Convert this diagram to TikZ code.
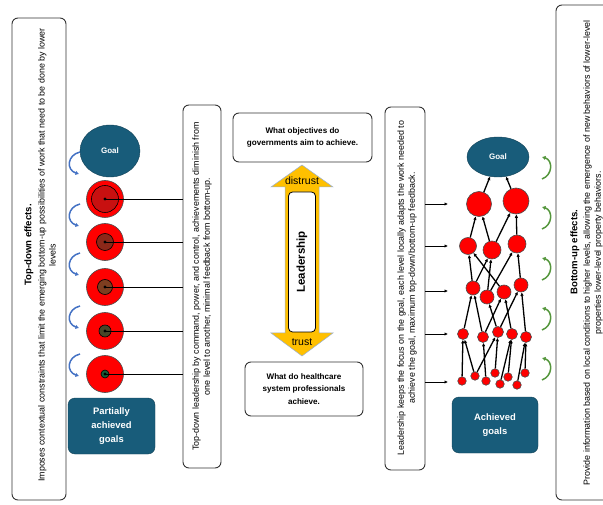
\documentclass[tikz,border=0pt]{standalone}
\usepackage{fontspec}
\setmainfont{Liberation Sans}
\usetikzlibrary{arrows.meta,shapes.geometric,positioning,calc}
\definecolor{goalblue}{RGB}{24,92,122}
\definecolor{leadgold}{RGB}{255,192,0}
\definecolor{leadedge}{RGB}{150,175,215}
\definecolor{curlblue}{RGB}{68,114,196}
\definecolor{curlgreen}{RGB}{84,150,60}
\definecolor{ringA}{RGB}{200,16,16}
\definecolor{ringB}{RGB}{140,40,25}
\definecolor{ringC}{RGB}{125,62,32}
\definecolor{ringD}{RGB}{72,70,40}
\definecolor{ringE}{RGB}{25,92,55}

\begin{document}
\begin{tikzpicture}[x=1pt,y=-1pt,>={Latex[length=3.5pt,width=3.5pt]},
	panel/.style={draw=black!80,line width=0.9pt,rounded corners=6pt,inner sep=0pt},
	bodytext/.style={rotate=90,align=center,inner sep=0pt,font=\fontsize{8.9}{11}\selectfont},
	headtext/.style={rotate=90,inner sep=0pt,font=\bfseries\fontsize{9.6}{11}\selectfont},
	qbox/.style={draw=black!80,line width=0.9pt,rounded corners=6pt,align=center,font=\bfseries\fontsize{8.1}{12.5}\selectfont},
	goalnode/.style={ellipse,fill=goalblue,draw=goalblue!70!black,text=white,inner sep=0pt,font=\bfseries\fontsize{8}{9}\selectfont},
	goalbox/.style={fill=goalblue,draw=goalblue!70!black,rounded corners=7pt,text=white,align=center,font=\bfseries\fontsize{9.4}{14}\selectfont},
	redball/.style={circle,fill=red,draw=black!70,line width=0.6pt,inner sep=0pt},
	link/.style={->,line width=1.3pt},
	feed/.style={-{Latex[length=3.5pt,width=3.5pt]},line width=0.9pt},
	curl/.style={line width=1.5pt,-{Latex[length=3.5pt,width=4.5pt]}}]
	\useasboundingbox (0,0) rectangle (603,505);
	\clip (0,0) rectangle (603,505);

	% side panels
	\node[panel,minimum width=54pt,minimum height=482pt] (tdpanel) at (39,259) {};
	\node[headtext] (tdtitle) at (29,245) {Top-down effects.};
	\node[bodytext] (tdtext) at (47,255) {Imposes contextual constraints that limit the emerging bottom-up possibilities of work that need to be done by lower\\levels};
	\draw[panel] (556,5) rectangle (640,500);
	\node[headtext] (butitle) at (575,252) {Bottom-up effects.};
	\node[bodytext] (butext) at (593,253) {Provide information based on local conditions to higher levels, allowing the emergence of new behaviors of lower-level\\properties lower-level property behaviors.};

	% leadership boxes
	\node[panel,minimum width=38pt,minimum height=363pt] (tdbox) at (202,286.5) {};
	\node[bodytext] at (tdbox) {Top-down leadership by command, power, and control, achievements diminish from\\one level to another, minimal feedback from bottom-up.};
	\node[panel,minimum width=40pt,minimum height=363pt] (fbbox) at (405,288.5) {};
	\node[bodytext] at (407,288) {Leadership keeps the focus on the goal, each level locally adapts the work needed to\\achieve the goal, maximum top-down/bottom-up feedback.};

	% centre
	\node[qbox,minimum width=139pt,minimum height=49pt] (govq) at (302.5,137.5) {What objectives do\\governments aim to achieve.};
	\node[qbox,minimum width=118pt,minimum height=54pt] (hcq) at (304,389) {What do healthcare\\system professionals\\achieve.};
	\filldraw[fill=leadgold,draw=leadedge,line width=0.5pt] (302,165) -- (333,187) -- (319,187) -- (319,333) -- (333,333) -- (302,356) -- (271,333) -- (285,333) -- (285,187) -- (271,187) -- cycle;
	\node[rotate=90,draw,fill=white,line width=0.8pt,rounded corners=4pt,minimum width=140pt,minimum height=27pt,inner sep=0pt,font=\bfseries\fontsize{11.5}{12}\selectfont] (lead) at (302,262) {Leadership};
	\node[font=\fontsize{10.5}{12}\selectfont,inner sep=0pt] (distrust) at (302,181) {distrust};
	\node[font=\fontsize{10.5}{12}\selectfont,inner sep=0pt] (trust) at (302,342) {trust};

	% top-down column
	\node[goalnode,minimum width=60pt,minimum height=52pt] (goalL) at (110,151) {Goal};
	\foreach \i/\y/\r/\c in {1/199/27/ringA,2/242/17/ringB,3/287/15/ringC,4/331/12/ringD,5/374/8/ringE}{
		\node[redball,minimum size=37pt] (lev\i) at (105,\y) {};
		\node[circle,draw=black,line width=0.6pt,fill=\c,minimum size=\r pt,inner sep=0pt] (core\i) at (lev\i) {};
		\draw[line width=0.8pt] (lev\i.center) -- (lev\i.center -| tdbox.west);
		\fill (lev\i.center) circle (1.6pt);
	}
	\foreach \y in {163,215,264,317,365}
		\draw[curl,curlblue] (80,\y-11) .. controls (67,\y-8) and (66,\y+7) .. (79,\y+11);
	\node[goalbox,minimum width=87pt,minimum height=56pt] (partial) at (111.5,426) {Partially\\achieved\\goals};

	% bottom-up network
	\node[goalnode,minimum width=62pt,minimum height=40pt] (goalR) at (498,157) {Goal};
	\node[redball,minimum size=25pt] (n1a) at (479,204) {};
	\node[redball,minimum size=26pt] (n1b) at (516,201) {};
	\node[redball,minimum size=17pt] (n2a) at (468,246) {};
	\node[redball,minimum size=18pt] (n2b) at (492,250) {};
	\node[redball,minimum size=18pt] (n2c) at (517,244) {};
	\foreach \n/\x/\y in {a/473/288,b/487/297,c/504/292,d/521/285}
		\node[redball,minimum size=14pt] (n3\n) at (\x,\y) {};
	\foreach \n/\x/\y in {a/463/334,b/483/337,c/498/332,d/512/334,e/526/337}
		\node[redball,minimum size=11pt] (n4\n) at (\x,\y) {};
	\foreach \n/\x/\y in {a/462/381,b/475/376,c/486/381,d/495/373,e/500/384,f/508/377,g/517/385,h/525/373}
		\node[redball,minimum size=8.5pt] (n5\n) at (\x,\y) {};
	\foreach \s/\t in {n1a/goalR,n1b/goalR,n2a/n1a,n2b/n1a,n2b/n1b,n2c/n1b,
		n3a/n2a,n3a/n2b,n3b/n2b,n3b/n2c,n3c/n2a,n3d/n2c,
		n4a/n3a,n4b/n3a,n4b/n3c,n4c/n3b,n4c/n3d,n4d/n3c,n4e/n3d,
		n5a/n4a,n5b/n4a,n5b/n4c,n5c/n4b,n5d/n4c,n5e/n4d,n5f/n4d,n5g/n4e,n5h/n4e}
		\draw[link] (\s) -- (\t);
	\foreach \i/\y in {1/204,2/246,3/291,4/334,5/382}{
		\coordinate (tip\i) at (448,\y);
		\draw[feed] (tip\i -| fbbox.east) -- (tip\i);
	}
	\foreach \y in {168,218,269,319,369}
		\draw[curl,curlgreen] (542,\y+11) .. controls (553,\y+7) and (553,\y-8) .. (542,\y-11);
	\node[goalbox,minimum width=86pt,minimum height=56pt] (achieved) at (495,425) {Achieved\\goals};
\end{tikzpicture}
\end{document}
